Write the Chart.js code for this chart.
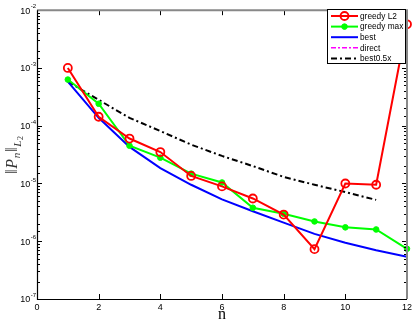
<!DOCTYPE html>
<html>
<head>
<meta charset="utf-8">
<script src="https://cdn.jsdelivr.net/npm/chart.js@4"></script>
<style>
  html, body { margin: 0; padding: 0; background: #fff; }
  #wrap { width: 415px; height: 321px; }
</style>
</head>
<body>
<div id="wrap"><canvas id="myChart" width="415" height="321"></canvas></div>
<script>
let n = [1, 2, 3, 4, 5, 6, 7, 8, 9, 10, 11, 12];
let greedyL2 = [1.0e-3, 1.43e-4, 6.0e-5, 3.5e-5, 1.35e-5, 8.9e-6, 5.5e-6, 2.9e-6, 7.3e-7, 1.0e-5, 9.5e-6, 5.7e-3];
let greedyMax = [6.3e-4, 2.4e-4, 4.5e-5, 2.8e-5, 1.48e-5, 1.04e-5, 3.8e-6, 3.0e-6, 2.2e-6, 1.74e-6, 1.6e-6, 7.4e-7];
let best = [5.8e-4, 1.37e-4, 4.3e-5, 1.85e-5, 9.5e-6, 5.3e-6, 3.3e-6, 2.1e-6, 1.34e-6, 9.4e-7, 7.0e-7, 5.4e-7];
let direct = [];
let best05x = [5.8e-4, 2.8e-4, 1.37e-4, 8.1e-5, 4.7e-5, 3.0e-5, 2.0e-5, 1.3e-5, 9.5e-6, 7.1e-6, 5.2e-6];
let xTicks = [0, 2, 4, 6, 8, 10, 12];
let yExponents = ["-7", "-6", "-5", "-4", "-3", "-2"];

const sans = "'Liberation Sans', Arial, sans-serif";
const serif = "'Liberation Serif', 'DejaVu Serif', serif";

function pts(ys) {
  let out = [];
  for (let i = 0; i < ys.length; i++) {
    out.push({ x: n[i], y: ys[i] });
  }
  return out;
}

function isPow10(v) {
  let l = Math.log10(v);
  return Math.abs(l - Math.round(l)) < 1e-6;
}

// frame, inward ticks, y labels with superscripts, axis titles, boxed legend
const framePlugin = {
  id: "frame",
  afterDraw(chart) {
    const c = chart.ctx;
    const a = chart.chartArea;
    const xs = chart.scales.x, ys = chart.scales.y;
    c.save();
    c.strokeStyle = "#000";
    c.lineWidth = 1;
    ys.ticks.forEach(t => {
      const y = Math.round(ys.getPixelForValue(t.value)) + 0.5;
      const len = isPow10(t.value) ? 5 : 3;
      c.beginPath();
      c.moveTo(a.left, y); c.lineTo(a.left + len, y);
      c.moveTo(a.right, y); c.lineTo(a.right - len, y);
      c.stroke();
    });
    xTicks.forEach(v => {
      const x = Math.round(xs.getPixelForValue(v)) + 0.5;
      c.beginPath();
      c.moveTo(x, a.bottom); c.lineTo(x, a.bottom - 5);
      c.moveTo(x, a.top); c.lineTo(x, a.top + 5);
      c.stroke();
    });
    c.strokeStyle = "#888";
    c.lineWidth = 2;
    c.beginPath();
    c.moveTo(a.left, a.top); c.lineTo(a.right, a.top); c.lineTo(a.right, a.bottom);
    c.stroke();
    c.strokeStyle = "#000";
    c.lineWidth = 1.2;
    c.beginPath();
    c.moveTo(a.left + 0.5, a.top); c.lineTo(a.left + 0.5, a.bottom + 0.5); c.lineTo(a.right, a.bottom + 0.5);
    c.stroke();

    // y tick labels: 10 with raised exponent
    c.fillStyle = "#000";
    c.textBaseline = "middle";
    yExponents.forEach(e => {
      const y = ys.getPixelForValue(Math.pow(10, Number(e)));
      c.font = "6px " + sans;
      const ew = c.measureText(e).width;
      c.textAlign = "left";
      c.fillText(e, 36 - ew, y - 3.5);
      c.font = "9px " + sans;
      c.textAlign = "right";
      c.fillText("10", 36 - ew - 0.5, y + 1);
    });

    // y title ||P_n||_{L_2}
    const parts = [
      { t: "‖", f: "16px " + serif, dy: 0 },
      { t: "P", f: "italic 16px " + serif, dy: 0 },
      { t: "n", f: "italic 11px " + serif, dy: 3 },
      { t: "‖", f: "16px " + serif, dy: 0 },
      { t: "L", f: "italic 11px " + serif, dy: 4 },
      { t: "2", f: "8px " + serif, dy: 6 },
    ];
    let total = 0;
    parts.forEach(p => { c.font = p.f; p.w = c.measureText(p.t).width; total += p.w + 0.7; });
    c.save();
    c.translate(17, (a.top + a.bottom) / 2);
    c.rotate(-Math.PI / 2);
    c.textAlign = "left";
    c.textBaseline = "alphabetic";
    c.fillStyle = "#333";
    let px = -total / 2;
    parts.forEach(p => {
      c.font = p.f;
      c.fillText(p.t, px, p.dy);
      px += p.w + 0.7;
    });
    c.restore();

    // x title
    c.font = "16px " + serif;
    c.textAlign = "center";
    c.textBaseline = "alphabetic";
    c.fillStyle = "#000";
    c.fillText("n", (a.left + a.right) / 2, 319);

    // legend
    const bx = 327.5, by = 9.5, bw = 78, bh = 54;
    c.fillStyle = "#fff";
    c.fillRect(bx, by, bw, bh);
    c.strokeStyle = "#000";
    c.lineWidth = 1;
    c.strokeRect(bx, by, bw, bh);
    c.font = "8.3px " + sans;
    c.textAlign = "left";
    c.textBaseline = "middle";
    chart.data.datasets.forEach((d, i) => {
      const y = 16 + i * 10.6;
      c.strokeStyle = d.borderColor;
      c.lineWidth = d.borderWidth;
      c.setLineDash(d.borderDash || []);
      c.beginPath();
      c.moveTo(331, y); c.lineTo(358, y);
      c.stroke();
      c.setLineDash([]);
      if (d.pointRadius > 0) {
        c.beginPath();
        c.arc(344.5, y, d.pointRadius, 0, Math.PI * 2);
        c.fillStyle = d.pointBackgroundColor;
        c.fill();
        c.lineWidth = d.pointBorderWidth;
        c.strokeStyle = d.borderColor;
        c.stroke();
      }
      c.fillStyle = "#000";
      c.fillText(d.label, 360, y + 0.5);
    });
    c.restore();
  }
};

const ctx = document.getElementById("myChart");

let ch = new Chart(ctx, {
  type: "line",
  data: {
    datasets: [
      {
        label: "greedy L2",
        data: pts(greedyL2),
        borderColor: "#ff0000",
        borderWidth: 2,
        pointRadius: 4,
        pointBorderWidth: 1.8,
        pointBackgroundColor: "rgba(255,255,255,0)",
        pointBorderColor: "#ff0000",
        clip: false,
      },
      {
        label: "greedy max",
        data: pts(greedyMax),
        borderColor: "#00ff00",
        borderWidth: 2,
        pointRadius: 2.8,
        pointBorderWidth: 1,
        pointBackgroundColor: "#00ff00",
        pointBorderColor: "#00ff00",
        clip: false,
      },
      {
        label: "best",
        data: pts(best),
        borderColor: "#0000ff",
        borderWidth: 2,
        pointRadius: 0,
      },
      {
        label: "direct",
        data: pts(direct),
        borderColor: "#ff00ff",
        borderWidth: 1.5,
        borderDash: [5, 2, 2, 2],
        pointRadius: 0,
      },
      {
        label: "best0.5x",
        data: pts(best05x),
        borderColor: "#000000",
        borderWidth: 2,
        borderDash: [6, 3, 2, 3],
        pointRadius: 0,
      },
    ],
  },
  options: {
    responsive: false,
    animation: false,
    layout: { padding: { top: 6, right: 3, left: 0, bottom: 0 } },
    plugins: { legend: { display: false }, tooltip: { enabled: false } },
    elements: { line: { tension: 0 } },
    scales: {
      x: {
        type: "linear",
        min: 0,
        max: 12,
        afterFit: s => { s.height = 22; },
        afterBuildTicks: s => { s.ticks = xTicks.map(v => ({ value: v })); },
        grid: { display: false, drawTicks: false },
        border: { display: false },
        ticks: {
          padding: 3,
          color: "#000",
          font: { family: sans, size: 9 },
        },
      },
      y: {
        type: "logarithmic",
        min: 1e-7,
        max: 1e-2,
        afterFit: s => { s.width = 37; },
        grid: { display: false, drawTicks: false },
        border: { display: false },
        ticks: {
          autoSkip: false,
          callback: () => "",
        },
      },
    },
  },
  plugins: [framePlugin],
});
</script>
</body>
</html>
